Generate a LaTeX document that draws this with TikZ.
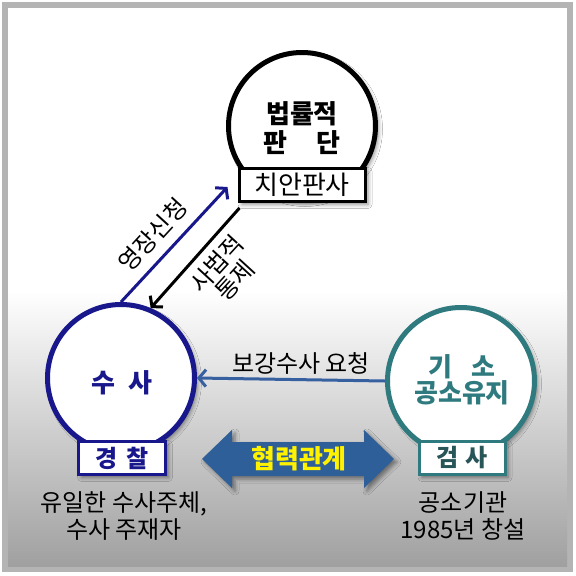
\documentclass[tikz,border=0pt]{standalone}
\usepackage{fontspec}
\setmainfont{Noto Sans CJK KR}
\usetikzlibrary{arrows.meta,shadows.blur}

\definecolor{navy}{RGB}{24,24,140}
\definecolor{teal}{RGB}{46,122,126}
\definecolor{tealdark}{RGB}{40,85,88}
\definecolor{steel}{RGB}{54,96,160}
\definecolor{coopblue}{RGB}{47,95,152}
\definecolor{framegray}{RGB}{180,180,180}
\definecolor{shadegray}{RGB}{160,160,160}

\tikzset{
  softshadow/.style={blur shadow={shadow xshift=3pt, shadow yshift=-3pt,
      shadow blur radius=4pt, shadow opacity=45}},
  circ/.style={circle, draw=#1, line width=5pt, fill=white, minimum size=147pt,
      inner sep=0pt, align=center, softshadow},
  tag/.style={draw=#1, line width=3pt, fill=white, minimum height=33pt,
      inner sep=0pt, softshadow},
  big/.style={font=\fontsize{26}{29}\selectfont\bfseries},
  note/.style={font=\fontsize{24}{27}\selectfont, align=center},
  tip/.style={-{Straight Barb[length=7pt,width=17pt]}, line width=3pt}
}

\begin{document}
\begin{tikzpicture}[x=1pt,y=-1pt]
  \useasboundingbox (0,0) rectangle (576,576);
  % frame and background
  \fill[framegray] (2,2) rectangle (573,572);
  \fill[white] (8,8) rectangle (567,291);
  \shade[top color=white, bottom color=shadegray] (8,290) rectangle (567,566);

  % judge
  \node[circ=black] (judge) at (302,126) {};
  \node[tag=black, minimum width=126pt] (judgebox) at (302,185)
    {\fontsize{26}{29}\selectfont 치안판사};
  \node[big, align=center] (judgetxt) at (302,128) {법률적\\판\quad\hspace{0.1em}단};

  % police
  \node[circ=navy] (police) at (121,378) {};
  \node[tag=navy, minimum width=87pt] (policebox) at (122,458)
    {\fontsize{24}{27}\selectfont\bfseries\color{navy}경\hspace{0.4em}찰};
  \node[big, text=navy] (policetxt) at (122,383) {수\hspace{0.5em}사};
  \node[note] (policenote) at (124,516) {유일한 수사주체,\\수사 주재자};

  % prosecutor
  \node[circ=teal] (pros) at (461,381) {};
  \node[tag=teal, minimum width=86pt] (prosbox) at (462,458)
    {\fontsize{24}{27}\selectfont\bfseries\color{tealdark}검\hspace{0.3em}사};
  \node[big, text=teal, align=center, font=\fontsize{26}{26}\selectfont\bfseries]
    (prostxt) at (462,380) {기\hspace{0.7em}소\\공소유지};
  \node[note] (prosnote) at (463,516) {공소기관\\1985년 창설};

  % arrows
  \coordinate (warrantend) at ([xshift=-10pt, yshift=-2pt]judgebox.west);
  \draw[tip, navy] (police.north) -- (warrantend);
  \node[note, rotate=47.5] (warrant) at (153,235) {영장신청};

  \coordinate (controlstart) at ([shift={(2,5)}]judgebox.south west);
  \draw[tip, black] (controlstart) -- (police.67);
  \node[note, rotate=47.5, font=\fontsize{24}{25}\selectfont] (control)
    at (226,272) {사법적\\통제};

  \draw[tip, steel] (pros.west) -- (police.east);
  \node[note] (reinvest) at (301,363) {보강수사 요청};

  % cooperation
  \fill[coopblue, softshadow] (202,459) -- (232,430) -- (232,442) -- (364,442)
    -- (364,430) -- (394,459) -- (364,488) -- (364,476) -- (232,476)
    -- (232,488) -- cycle;
  \node[big, text=yellow] (coop) at (299,459) {협력관계};
\end{tikzpicture}
\end{document}
